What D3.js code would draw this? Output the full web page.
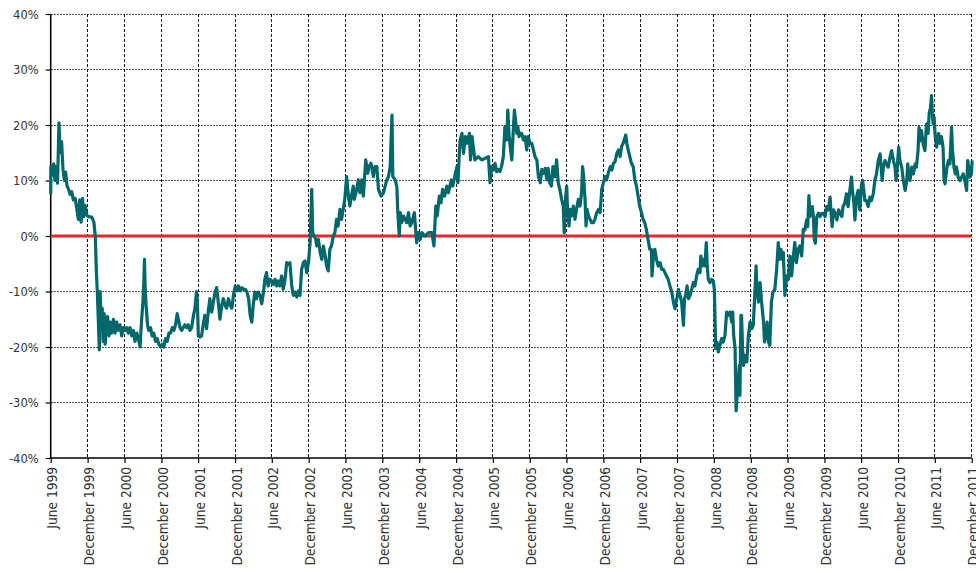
<!DOCTYPE html>
<html>
<head>
<meta charset="utf-8">
<script src="https://cdn.jsdelivr.net/npm/d3@7/dist/d3.min.js"></script>
<style>
  html, body { margin: 0; padding: 0; background: #fff; }
  svg { display: block; }
  .lbl { font-family: "DejaVu Sans Condensed", "DejaVu Sans", Verdana, sans-serif; font-stretch: condensed; fill: #333; }
</style>
</head>
<body>
<svg id="chart" width="976" height="573"></svg>
<script>
// ---- data ----
const xTickDates = ["1999-06-01","1999-12-01","2000-06-01","2000-12-01","2001-06-01","2001-12-01","2002-06-01","2002-12-01","2003-06-01","2003-12-01","2004-06-01","2004-12-01","2005-06-01","2005-12-01","2006-06-01","2006-12-01","2007-06-01","2007-12-01","2008-06-01","2008-12-01","2009-06-01","2009-12-01","2010-06-01","2010-12-01","2011-06-01","2011-12-01"];
const xTickLabels = ["June 1999","December 1999","June 2000","December 2000","June 2001","December 2001","June 2002","December 2002","June 2003","December 2003","June 2004","December 2004","June 2005","December 2005","June 2006","December 2006","June 2007","December 2007","June 2008","December 2008","June 2009","December 2009","June 2010","December 2010","June 2011","December 2011"];
const yTicks = [-40,-30,-20,-10,0,10,20,30,40];
const referenceLevel = 0;
const relativePerformance = [
["1999-06-01",7.5],["1999-06-02",12.5],["1999-06-09",11],["1999-06-16",13],["1999-06-22",10],["1999-06-28",12.5],["1999-07-05",9.5],["1999-07-12",20.4],["1999-07-18",15],["1999-07-25",17],["1999-08-01",12],["1999-08-08",10],["1999-08-14",11.5],["1999-08-21",9],["1999-08-28",8.5],["1999-09-05",7.5],["1999-09-13",8],["1999-09-21",6.5],["1999-09-30",6.8],["1999-10-08",5],["1999-10-16",3],["1999-10-23",6.5],["1999-10-30",2.5],["1999-11-06",6.8],["1999-11-12",3.5],["1999-11-19",5.5],["1999-11-27",3.8],["1999-12-05",3.5],["1999-12-22",3.4],["2000-01-01",2.5],["2000-01-08",0],["2000-01-13",-6],["2000-01-18",-10],["2000-01-23",-15],["2000-01-28",-20.5],["2000-02-01",-10],["2000-02-06",-15],["2000-02-11",-13],["2000-02-16",-19],["2000-02-21",-14],["2000-02-26",-19.5],["2000-03-03",-16],["2000-03-09",-14.5],["2000-03-16",-18],["2000-03-23",-15.5],["2000-03-29",-17.5],["2000-04-07",-15],["2000-04-15",-17.5],["2000-04-23",-15.5],["2000-05-01",-17],["2000-05-10",-16],["2000-05-18",-18],["2000-05-26",-16.5],["2000-06-04",-17],["2000-06-12",-16.5],["2000-06-20",-17.5],["2000-06-28",-16.5],["2000-07-07",-18],["2000-07-15",-17],["2000-07-23",-19],["2000-08-01",-17.5],["2000-08-09",-18.5],["2000-08-17",-20],["2000-08-24",-15.5],["2000-08-31",-12],["2000-09-05",-8],["2000-09-08",-4.2],["2000-09-11",-9],["2000-09-16",-12.5],["2000-09-23",-16],["2000-09-29",-17],["2000-10-08",-16.5],["2000-10-16",-18],["2000-10-24",-17.5],["2000-11-02",-19],["2000-11-10",-18.5],["2000-11-18",-19.5],["2000-11-26",-20],["2000-12-05",-19.5],["2000-12-13",-20],["2000-12-21",-18.5],["2000-12-30",-19],["2001-01-07",-17.5],["2001-01-15",-17.5],["2001-01-24",-16.5],["2001-02-01",-17],["2001-02-09",-16],["2001-02-17",-14],["2001-02-23",-15],["2001-03-03",-16.5],["2001-03-11",-17],["2001-03-19",-16.5],["2001-03-27",-16],["2001-04-05",-16.5],["2001-04-13",-16],["2001-04-21",-17],["2001-04-30",-16.5],["2001-05-08",-14.5],["2001-05-16",-13],["2001-05-24",-10],["2001-05-29",-13],
["2001-06-02",-18],["2001-06-10",-18.2],["2001-06-18",-18],["2001-06-26",-16],["2001-07-04",-14.3],["2001-07-13",-16.7],["2001-07-21",-13.7],["2001-07-29",-11.3],["2001-08-07",-13.7],["2001-08-15",-12],["2001-08-24",-10.1],["2001-09-01",-9.3],["2001-09-09",-12],["2001-09-17",-15],["2001-09-26",-12.5],["2001-10-04",-11.3],["2001-10-12",-12.5],["2001-10-20",-13],["2001-10-29",-11.3],["2001-11-07",-12.5],["2001-11-15",-13],["2001-11-23",-10.7],["2001-12-02",-9],["2001-12-10",-9.9],["2001-12-18",-9],["2001-12-27",-9.9],["2002-01-04",-9.3],["2002-01-12",-9.6],["2002-01-21",-9.6],["2002-01-29",-10.1],["2002-02-06",-11.3],["2002-02-14",-14.3],["2002-02-22",-15.5],["2002-03-01",-12.5],["2002-03-09",-10.1],["2002-03-17",-11.3],["2002-03-26",-10.1],["2002-04-04",-10.7],["2002-04-12",-12.2],["2002-04-20",-10.4],["2002-04-28",-7.8],["2002-05-06",-6.6],["2002-05-14",-9],["2002-05-23",-7.8],["2002-06-01",-8.1],["2002-06-09",-8.7],["2002-06-17",-7.8],["2002-06-25",-9],["2002-07-03",-8.1],["2002-07-11",-9],["2002-07-20",-7.2],["2002-07-28",-9.6],["2002-08-06",-7.8],["2002-08-14",-4.8],["2002-08-22",-5.1],["2002-08-30",-4.8],["2002-09-08",-9],["2002-09-16",-10.7],["2002-09-24",-10.1],["2002-10-03",-11],["2002-10-11",-9.9],["2002-10-19",-10.7],["2002-10-27",-6],["2002-11-05",-4.8],["2002-11-13",-4.5],["2002-11-21",-6.6],["2002-11-30",-4.8],["2002-12-08",-1.2],["2002-12-16",8.4],["2002-12-21",0.6],["2002-12-29",0],["2003-01-05",-0.6],["2003-01-10",-1.8],["2003-01-18",-0.6],["2003-01-27",-3],["2003-02-04",-4.2],["2003-02-12",-1.8],["2003-02-21",-3.6],["2003-02-28",-5.4],["2003-03-08",-6.3],["2003-03-16",-2.4],["2003-03-24",-1.8],["2003-04-02",0],["2003-04-10",0.6],["2003-04-18",3],["2003-04-26",1.8],["2003-05-05",4.8],["2003-05-13",3],["2003-05-21",4.8],["2003-05-29",6.6],["2003-06-07",10.7],
["2003-06-16",7.2],["2003-06-23",5.4],["2003-07-01",7.2],["2003-07-10",9],["2003-07-15",6.6],["2003-07-27",8.4],["2003-08-04",10.1],["2003-08-12",7.8],["2003-08-21",10.1],["2003-08-29",7.2],["2003-09-10",13.7],["2003-09-20",11.3],["2003-09-26",12.5],["2003-10-06",13.1],["2003-10-18",10.7],["2003-10-26",12.5],["2003-11-04",12.5],["2003-11-12",8.4],["2003-11-25",7.2],["2003-12-07",7.8],["2003-12-23",10.1],["2004-01-01",10.7],["2004-01-09",12.5],["2004-01-18",21.8],["2004-01-22",10.7],["2004-02-03",10.1],["2004-02-11",8.9],["2004-02-16",4.2],["2004-02-23",0],["2004-02-28",4.2],["2004-03-06",2.4],["2004-03-15",3.6],["2004-03-23",3],["2004-03-31",2.4],["2004-04-09",4.2],["2004-04-17",1.8],["2004-04-25",2.4],["2004-05-08",4.2],["2004-05-14",1.2],["2004-05-19",-1.2],["2004-05-28",0.6],["2004-06-06",-0.6],["2004-06-14",0.6],["2004-07-01",0],["2004-07-17",0.6],["2004-08-03",0.6],["2004-08-13",-1.8],["2004-08-16",0.6],["2004-08-22",5.4],["2004-08-29",3.6],["2004-09-09",7.2],["2004-09-17",6],["2004-09-25",8.4],["2004-10-05",7.2],["2004-10-16",9],["2004-10-24",7.8],["2004-11-07",10.1],["2004-11-14",9],["2004-11-24",10.7],["2004-12-05",12.5],["2004-12-10",9.6],["2004-12-16",14.3],["2004-12-21",17.3],["2004-12-30",18.5],["2005-01-07",14.9],["2005-01-16",17.9],["2005-01-24",16.7],["2005-02-05",18.5],["2005-02-10",13.7],["2005-02-18",17.9],["2005-02-26",15.5],["2005-03-04",13.7],["2005-03-21",14.3],["2005-04-07",13.7],["2005-04-24",14],["2005-05-10",14.3],["2005-05-18",9.6],["2005-05-26",12.5],["2005-06-04",11.9],["2005-06-12",13.1],
["2005-06-20",11.6],["2005-06-28",12],["2005-07-06",11.6],["2005-07-14",12.5],["2005-07-23",14.3],["2005-07-31",19.7],["2005-08-09",17.3],["2005-08-14",22.7],["2005-08-20",18.5],["2005-08-26",16.1],["2005-09-03",13.7],["2005-09-08",17.3],["2005-09-13",20.9],["2005-09-16",22.7],["2005-09-23",20.3],["2005-09-28",18.5],["2005-10-03",19.7],["2005-10-09",17.9],["2005-10-14",18.5],["2005-10-22",18.5],["2005-10-30",17.3],["2005-11-08",17.9],["2005-11-16",15.5],["2005-11-21",17.3],["2005-11-24",17.9],["2005-12-02",16.7],["2005-12-11",16.7],["2005-12-19",15.5],["2005-12-27",14.3],["2006-01-05",13.7],["2006-01-13",10.7],["2006-01-22",9.6],["2006-01-30",12],["2006-02-08",11.3],["2006-02-16",12.2],["2006-02-24",10.1],["2006-03-02",12.2],["2006-03-10",9.6],["2006-03-18",9],["2006-03-26",12.5],["2006-04-05",10.7],["2006-04-13",13.7],["2006-04-21",9.6],["2006-04-29",8.4],["2006-05-08",6.6],["2006-05-16",5.4],["2006-05-21",0.6],["2006-05-27",6.6],["2006-06-02",9],["2006-06-07",4.2],["2006-06-14",1.8],["2006-06-18",4.8],["2006-06-26",3.6],["2006-07-05",5.4],["2006-07-13",3],["2006-07-21",4.8],["2006-07-30",6.6],["2006-08-07",5.4],["2006-08-15",7.8],["2006-08-20",12.5],["2006-08-25",10.7],["2006-09-01",6.6],["2006-09-06",1.8],["2006-09-11",4.8],["2006-09-18",3.6],["2006-09-26",3],["2006-10-04",2.4],["2006-10-12",2.4],["2006-10-20",3],["2006-10-29",4.2],["2006-11-07",4.8],["2006-11-15",4.2],["2006-11-23",8.4],["2006-12-01",9.6],["2006-12-09",10.7],["2006-12-17",10.1],["2006-12-25",11.3],["2007-01-04",12.5],["2007-01-12",11.9],["2007-01-20",13.1],["2007-01-28",13.4],["2007-02-06",14.9],["2007-02-14",15.5],["2007-02-22",14.3],["2007-03-01",16.1],["2007-03-09",16.7],["2007-03-17",17.6],["2007-03-22",18.2],["2007-03-27",16.7],["2007-04-03",15.5],["2007-04-11",14.3],["2007-04-19",13.1],["2007-04-28",12.5],["2007-05-06",10.1],["2007-05-14",9],["2007-05-22",7.2],["2007-05-30",5.4],["2007-06-08",4.2],["2007-06-16",3],["2007-06-24",2.4],["2007-07-02",1.2],["2007-07-10",-0.6],["2007-07-19",-2.4],
["2007-07-27",-2.4],["2007-07-30",-7.2],["2007-08-05",-4.2],["2007-08-13",-2.4],["2007-08-21",-4.2],["2007-08-30",-5.4],["2007-09-08",-4.8],["2007-09-16",-6],["2007-09-24",-6],["2007-10-02",-6.6],["2007-10-10",-7.2],["2007-10-18",-7.8],["2007-10-27",-9],["2007-11-05",-10.1],["2007-11-13",-11.9],["2007-11-21",-13.1],["2007-11-30",-11.3],["2007-12-08",-9.6],["2007-12-16",-10.7],["2007-12-24",-11.9],["2008-01-02",-16.1],["2008-01-07",-11.3],["2008-01-13",-10.7],["2008-01-20",-9],["2008-01-27",-11.3],["2008-02-04",-10.7],["2008-02-12",-9.6],["2008-02-20",-8.4],["2008-02-28",-9],["2008-03-07",-7.2],["2008-03-15",-6],["2008-03-24",-6.6],["2008-03-28",-3.6],["2008-04-05",-5.4],["2008-04-11",-4.2],["2008-04-18",-5.4],["2008-04-24",-1.2],["2008-04-29",-5.4],["2008-05-04",-7.8],["2008-05-12",-8.4],["2008-05-21",-7.8],["2008-05-29",-8.1],["2008-06-03",-9.6],["2008-06-10",-20.3],["2008-06-16",-19.1],["2008-06-23",-20.9],["2008-07-01",-19.7],["2008-07-09",-18.5],["2008-07-17",-19.1],["2008-07-26",-17.9],["2008-08-03",-13.7],["2008-08-11",-14.3],["2008-08-20",-13.7],["2008-08-28",-15.5],["2008-09-02",-13.7],["2008-09-07",-17.9],["2008-09-14",-20.3],["2008-09-19",-31.5],["2008-09-24",-28.7],["2008-09-30",-26.3],["2008-10-05",-23.3],["2008-10-08",-28.7],["2008-10-13",-14.3],["2008-10-16",-14.3],["2008-10-21",-20.3],["2008-10-26",-23.3],["2008-11-02",-21.5],["2008-11-11",-22.7],["2008-11-19",-17.9],["2008-11-27",-15.5],["2008-12-05",-16.7],["2008-12-13",-16.1],["2008-12-22",-9.6],["2008-12-27",-5.4],["2009-01-01",-9.6],["2009-01-08",-11.9],["2009-01-16",-8.4],["2009-01-25",-12.5],["2009-02-02",-15.5],["2009-02-07",-19.1],["2009-02-14",-17.9],["2009-02-20",-15.5],["2009-02-27",-19.1],["2009-03-05",-19.7],["2009-03-13",-11.9],["2009-03-21",-10.1],["2009-03-30",-9.6],["2009-04-08",-6],["2009-04-16",-1.2],["2009-04-22",-4.2],["2009-04-29",-2.4],["2009-05-06",-4.2],["2009-05-11",-3],["2009-05-19",-10.7],["2009-05-27",-7.2],["2009-06-05",-7.8],["2009-06-13",-3.6],["2009-06-21",-7.2],["2009-06-30",-3.6],["2009-07-07",-1.2],["2009-07-15",-4.8],["2009-07-24",-2.4],["2009-08-01",-1.8],["2009-08-10",-3.6],["2009-08-18",1.2],
["2009-08-26",1.1],["2009-09-04",2.9],["2009-09-09",1.7],["2009-09-15",7.3],["2009-09-20",3.5],["2009-09-25",4.1],["2009-10-02",5.3],["2009-10-07",3.5],["2009-10-12",-0.7],["2009-10-17",-1.3],["2009-10-24",3.5],["2009-11-01",4.1],["2009-11-09",3.5],["2009-11-18",4.1],["2009-11-26",4.1],["2009-12-04",3.5],["2009-12-12",5.3],["2009-12-20",4.7],["2009-12-29",7],["2010-01-03",4.1],["2010-01-08",1.7],["2010-01-15",4.7],["2010-01-23",4.1],["2010-02-01",2.9],["2010-02-09",4.7],["2010-02-17",4.1],["2010-02-25",3.5],["2010-03-03",5.3],["2010-03-12",5.9],["2010-03-20",7.6],["2010-03-28",5.3],["2010-04-06",8.2],["2010-04-14",10.6],["2010-04-19",8.2],["2010-04-26",5.9],["2010-05-01",2.9],["2010-05-09",7],["2010-05-17",8.2],["2010-05-25",4.7],["2010-06-03",9.4],["2010-06-08",10],["2010-06-14",8.2],["2010-06-19",6.4],["2010-06-27",6.4],["2010-07-06",5.3],["2010-07-14",7],["2010-07-22",6.4],["2010-07-31",7.6],["2010-08-08",10],["2010-08-16",11.2],["2010-08-25",13.6],["2010-09-03",14.8],["2010-09-08",12.4],["2010-09-13",10],["2010-09-19",12.4],["2010-09-27",13.6],["2010-10-05",13],["2010-10-13",12.4],["2010-10-22",14.2],["2010-10-30",15.4],["2010-11-08",13.6],["2010-11-16",12.4],["2010-11-21",10],["2010-11-27",12.4],["2010-12-04",16],["2010-12-10",13.6],["2010-12-19",12.4],["2010-12-27",10],["2011-01-05",8.2],["2011-01-13",10],["2011-01-18",13],["2011-01-23",11.2],["2011-01-29",10],["2011-02-07",12.4],["2011-02-15",11.2],["2011-02-24",13],["2011-03-02",12.4],["2011-03-10",15.4],["2011-03-15",19.6],["2011-03-22",17.2],["2011-03-27",19],["2011-04-04",16.7],["2011-04-13",15.4],["2011-04-21",20.2],["2011-04-29",18.5],["2011-05-04",22],["2011-05-11",23.2],["2011-05-16",25.3],["2011-05-20",22],["2011-05-24",20.2],["2011-05-29",21.4],["2011-06-03",17.9],["2011-06-10",16],["2011-06-15",17.2],["2011-06-20",18.5],["2011-06-26",16.7],["2011-07-04",17.9],["2011-07-12",16],["2011-07-17",10],["2011-07-22",9.4],["2011-07-29",11.8],["2011-08-07",13.6],["2011-08-15",13],["2011-08-23",19.6],["2011-08-28",15.4],["2011-09-04",12.4],["2011-09-11",11.2],["2011-09-17",12.4],["2011-09-25",10.6],["2011-10-04",10],["2011-10-12",10.6],["2011-10-20",11.2],["2011-10-28",10],["2011-11-06",8.2],["2011-11-11",13.6],["2011-11-16",12.4],["2011-11-22",10.6],["2011-11-30",11.2],["2011-12-03",13.6]
];

// ---- chart ----
const parse = d3.timeParse("%Y-%m-%d");
const svg = d3.select("#chart");
const plot = {left: 50.7, right: 971.7, top: 14, bottom: 458};

const x = d3.scaleTime()
  .domain([parse(xTickDates[0]), parse(xTickDates[xTickDates.length - 1])])
  .range([plot.left, plot.right]);
const y = d3.scaleLinear().domain([-40, 40]).range([plot.bottom, plot.top]);

const tickDates = xTickDates.map(parse);

// gridlines
const grid = svg.append("g").attr("shape-rendering", "crispEdges");
grid.selectAll("line.h").data(yTicks.filter(v => v !== -40)).enter().append("line")
  .attr("x1", plot.left).attr("x2", plot.right)
  .attr("y1", d => y(d)).attr("y2", d => y(d))
  .attr("stroke", "#555").attr("stroke-width", 1).attr("stroke-dasharray", "2,1");
grid.selectAll("line.v").data(tickDates.slice(1)).enter().append("line")
  .attr("x1", d => x(d)).attr("x2", d => x(d))
  .attr("y1", plot.top).attr("y2", plot.bottom)
  .attr("stroke", "#111").attr("stroke-width", 1).attr("stroke-dasharray", "3,2");

// x axis
const xAxis = d3.axisBottom(x).tickValues(tickDates).tickSize(5)
  .tickFormat((d, i) => xTickLabels[i]);
const gx = svg.append("g").attr("transform", `translate(0,${plot.bottom})`).call(xAxis);
gx.selectAll(".tick line").attr("stroke", "#000").attr("stroke-width", 1.2);
gx.selectAll(".tick text")
  .attr("class", "lbl")
  .attr("font-size", 13.6)
  .attr("text-anchor", "end")
  .attr("transform", "rotate(-90)")
  .attr("x", -9).attr("y", 0).attr("dy", "0.45em");

// y axis
const yAxis = d3.axisLeft(y).tickValues(yTicks).tickSize(5).tickPadding(7)
  .tickFormat(d => d + "%");
const gy = svg.append("g").attr("transform", `translate(${plot.left},0)`).call(yAxis);
gy.selectAll(".tick line").attr("stroke", "#000").attr("stroke-width", 1.2);
gy.selectAll(".tick text").attr("class", "lbl").attr("font-size", 12.8);
svg.selectAll(".domain").remove();
// axis lines
svg.append("line").attr("x1", plot.left).attr("x2", plot.left)
  .attr("y1", y(40)).attr("y2", y(-40)).attr("stroke", "#000").attr("stroke-width", 1.6);
svg.append("line").attr("x1", plot.left).attr("x2", x(tickDates[tickDates.length - 1]))
  .attr("y1", y(-40)).attr("y2", y(-40)).attr("stroke", "#000").attr("stroke-width", 1.6);

// zero reference line
svg.append("line")
  .attr("x1", plot.left).attr("x2", plot.right)
  .attr("y1", y(referenceLevel)).attr("y2", y(referenceLevel))
  .attr("stroke", "#e8262d").attr("stroke-width", 3);

// series line
const line = d3.line().x(d => x(parse(d[0]))).y(d => y(d[1]));
svg.append("path").datum(relativePerformance)
  .attr("d", line)
  .attr("fill", "none")
  .attr("stroke", "#00676b")
  .attr("stroke-width", 3.2)
  .attr("stroke-linejoin", "round");
</script>
</body>
</html>
